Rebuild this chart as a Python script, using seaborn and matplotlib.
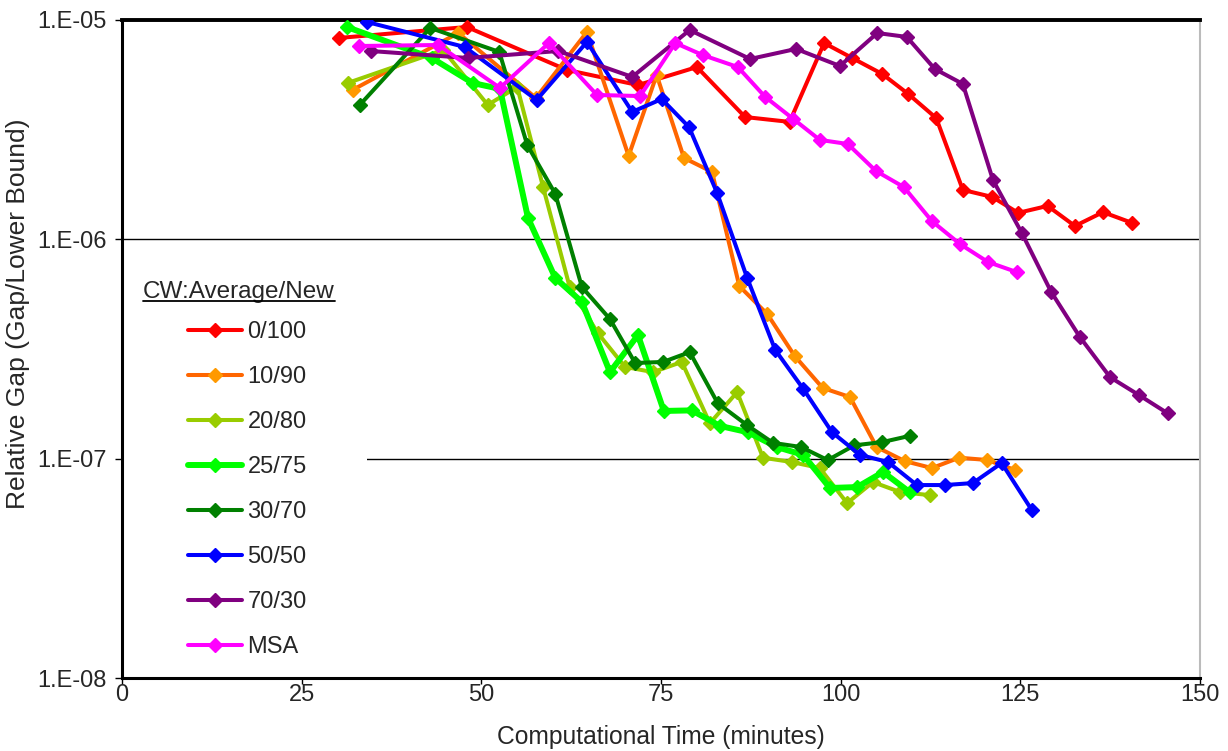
import numpy as np
import pandas as pd
import matplotlib
matplotlib.use("Agg")
import matplotlib.pyplot as plt
from matplotlib.patches import Rectangle
from matplotlib.lines import Line2D
import seaborn as sns

# ---- data: computational time (minutes) and relative gap per weighting scheme ----
t_0_100 = [30.2, 48.0, 61.9, 71.8, 80.0, 86.7, 92.9, 97.7, 101.6, 105.8, 109.4, 113.3,
           117.0, 121.1, 124.7, 128.8, 132.6, 136.5, 140.5]
g_0_100 = [8.28e-6, 9.29e-6, 5.92e-6, 5.05e-6, 6.10e-6, 3.61e-6, 3.43e-6, 7.85e-6, 6.71e-6,
           5.67e-6, 4.60e-6, 3.57e-6, 1.68e-6, 1.56e-6, 1.32e-6, 1.42e-6, 1.15e-6, 1.33e-6, 1.19e-6]

t_10_90 = [32.1, 46.8, 57.6, 64.7, 70.5, 74.4, 78.2, 82.1, 85.9, 89.8, 93.6, 97.5,
           101.3, 105.0, 108.9, 112.7, 116.5, 120.4, 124.3]
g_10_90 = [4.80e-6, 8.72e-6, 4.41e-6, 8.82e-6, 2.40e-6, 5.61e-6, 2.35e-6, 2.03e-6, 6.12e-7,
           4.56e-7, 2.94e-7, 2.10e-7, 1.91e-7, 1.13e-7, 9.75e-8, 9.06e-8, 1.01e-7, 9.86e-8, 8.87e-8]

t_20_80 = [31.4, 44.7, 50.9, 55.0, 58.6, 62.3, 66.2, 70.0, 73.9, 77.9, 81.8, 85.6,
           89.2, 93.2, 97.1, 100.9, 104.5, 108.3, 112.4]
g_20_80 = [5.16e-6, 7.30e-6, 4.10e-6, 4.95e-6, 1.73e-6, 6.06e-7, 3.74e-7, 2.62e-7, 2.48e-7,
           2.76e-7, 1.45e-7, 2.01e-7, 1.01e-7, 9.65e-8, 9.06e-8, 6.27e-8, 7.82e-8, 7.04e-8, 6.82e-8]

t_25_75 = [31.3, 43.1, 48.8, 52.6, 56.5, 60.3, 64.0, 67.9, 71.8, 75.4, 79.3, 83.2,
           87.1, 91.1, 94.8, 98.5, 102.3, 105.9, 109.6]
g_25_75 = [9.29e-6, 6.71e-6, 5.16e-6, 4.85e-6, 1.25e-6, 6.66e-7, 5.18e-7, 2.48e-7, 3.66e-7,
           1.65e-7, 1.66e-7, 1.41e-7, 1.32e-7, 1.13e-7, 1.04e-7, 7.35e-8, 7.42e-8, 8.69e-8, 7.04e-8]

t_30_70 = [33.1, 42.9, 52.5, 56.4, 60.3, 64.0, 67.9, 71.4, 75.3, 79.0, 82.9, 87.0,
           90.6, 94.5, 98.2, 101.9, 105.8, 109.6]
g_30_70 = [4.10e-6, 9.20e-6, 7.15e-6, 2.69e-6, 1.61e-6, 6.06e-7, 4.33e-7, 2.73e-7, 2.76e-7,
           3.06e-7, 1.79e-7, 1.42e-7, 1.18e-7, 1.13e-7, 9.85e-8, 1.15e-7, 1.19e-7, 1.27e-7]

t_50_50 = [34.1, 47.7, 57.7, 64.7, 71.0, 75.1, 78.9, 82.8, 87.0, 90.9, 94.8, 98.8,
           102.7, 106.6, 110.6, 114.5, 118.4, 122.4, 126.6]
g_50_50 = [9.79e-6, 7.53e-6, 4.32e-6, 7.94e-6, 3.81e-6, 4.36e-6, 3.25e-6, 1.63e-6, 6.66e-7,
           3.13e-7, 2.08e-7, 1.32e-7, 1.04e-7, 9.65e-8, 7.58e-8, 7.58e-8, 7.74e-8, 9.55e-8, 5.83e-8]

t_70_30 = [34.6, 48.1, 60.7, 71.0, 79.0, 87.4, 93.8, 99.9, 105.1, 109.2, 113.1, 117.0,
           121.2, 125.2, 129.3, 133.3, 137.5, 141.5, 145.5]
g_70_30 = [7.22e-6, 6.71e-6, 7.22e-6, 5.50e-6, 9.00e-6, 6.64e-6, 7.38e-6, 6.17e-6, 8.72e-6,
           8.37e-6, 5.98e-6, 5.11e-6, 1.86e-6, 1.07e-6, 5.75e-7, 3.58e-7, 2.35e-7, 1.95e-7, 1.61e-7]

t_msa = [33.0, 44.0, 52.6, 59.4, 66.1, 72.1, 77.0, 80.8, 85.7, 89.5, 93.4, 97.1,
         101.0, 104.9, 108.8, 112.7, 116.6, 120.5, 124.5]
g_msa = [7.61e-6, 7.69e-6, 4.90e-6, 7.85e-6, 4.55e-6, 4.50e-6, 7.85e-6, 6.92e-6, 6.10e-6,
         4.46e-6, 3.54e-6, 2.84e-6, 2.72e-6, 2.05e-6, 1.73e-6, 1.21e-6, 9.52e-7, 7.88e-7, 7.09e-7]

series_names = ["0/100", "10/90", "20/80", "25/75", "30/70", "50/50", "70/30", "MSA"]
series_t = [t_0_100, t_10_90, t_20_80, t_25_75, t_30_70, t_50_50, t_70_30, t_msa]
series_g = [g_0_100, g_10_90, g_20_80, g_25_75, g_30_70, g_50_50, g_70_30, g_msa]

x_ticks = [0, 25, 50, 75, 100, 125, 150]
y_ticks = [1e-8, 1e-7, 1e-6, 1e-5]
y_tick_labels = ["1.E-08", "1.E-07", "1.E-06", "1.E-05"]

# ---- styling ----
line_colors = ["#FF0000", "#FF6600", "#99CC00", "#00FF00", "#008000", "#0000FF", "#800080", "#FF00FF"]
marker_colors = ["#FF0000", "#FF9900", "#99CC00", "#00FF00", "#008000", "#0000FF", "#800080", "#FF00FF"]
line_widths = [2.9, 2.9, 2.9, 4.3, 2.9, 2.9, 2.9, 2.9]
FS = 17

sns.set_style("white")
plt.rcParams["font.family"] = ["Liberation Sans", "DejaVu Sans"]

fig = plt.figure(figsize=(12.28, 7.51), dpi=100)
ax = fig.add_axes([0.0993, 0.0972, 0.8779, 0.8762])

frames = []
for name, t, g in zip(series_names, series_t, series_g):
    frames.append(pd.DataFrame({"time": t, "gap": g, "scheme": name}))
df = pd.concat(frames, ignore_index=True)

for i, name in enumerate(series_names):
    sub = df[df["scheme"] == name]
    sns.lineplot(data=sub, x="time", y="gap", ax=ax, sort=False,
                 color=line_colors[i], linewidth=line_widths[i],
                 marker="D", markersize=7, markerfacecolor=marker_colors[i],
                 markeredgecolor=marker_colors[i], markeredgewidth=1,
                 label=name, zorder=3, legend=False)

ax.set_yscale("log")
ax.set_xlim(0, 150)
ax.set_ylim(1e-8, 1e-5)
ax.set_xticks(x_ticks)
ax.set_xticklabels([str(v) for v in x_ticks])
ax.set_yticks(y_ticks)
ax.set_yticklabels(y_tick_labels)
ax.yaxis.set_minor_locator(matplotlib.ticker.NullLocator())
ax.tick_params(axis="y", which="major", labelsize=FS, direction="out",
               length=5, width=1, color="black", pad=6, left=True)
ax.tick_params(axis="x", which="major", labelsize=FS, direction="out",
               length=4, width=1, color="black", pad=0, bottom=True)

# horizontal gridlines at each decade
ax.set_axisbelow(True)
ax.yaxis.grid(True, color="black", linewidth=1)
ax.xaxis.grid(False)

for side in ["left", "bottom"]:
    ax.spines[side].set_color("black")
    ax.spines[side].set_linewidth(2.2)
ax.spines["top"].set_color("black")
ax.spines["top"].set_linewidth(2.8)
ax.spines["right"].set_color("#BBBBBB")
ax.spines["right"].set_linewidth(1.5)

ax.set_xlabel("Computational Time (minutes)", fontsize=17.7)
ax.set_ylabel("Relative Gap (Gap/Lower Bound)", fontsize=19)
ax.xaxis.set_label_coords(0.5, -0.0714)
ax.yaxis.set_label_coords(-0.0853, 0.553)

# legend background box
ax.add_patch(Rectangle((0.0, 0.0), 0.227, 0.63, transform=ax.transAxes,
                       facecolor="white", edgecolor="none", zorder=1))

handles = [Line2D([], [], color=line_colors[i], linewidth=line_widths[i], marker="D",
                  markersize=7, markerfacecolor=marker_colors[i],
                  markeredgecolor=marker_colors[i])
           for i in range(len(series_names))]
leg = ax.legend(handles, series_names, loc="upper left",
                bbox_to_anchor=(0.0612, 0.542), frameon=False, fontsize=FS,
                labelspacing=0.975, handlelength=2.3, handletextpad=0.22,
                borderaxespad=0.0, borderpad=0.0)
leg.set_zorder(4)

title = ax.text(0.0195, 0.587, "CW:Average/New", transform=ax.transAxes,
                fontsize=17.5, ha="left", va="center", zorder=4)

# underline the legend heading
fig.canvas.draw()
bb = title.get_window_extent().transformed(ax.transAxes.inverted())
ax.add_line(Line2D([bb.x0, bb.x1], [bb.y0 + 0.002, bb.y0 + 0.002], transform=ax.transAxes,
                   color="black", linewidth=1.3, zorder=4))

fig.savefig("out.png", dpi=100, facecolor="white")
